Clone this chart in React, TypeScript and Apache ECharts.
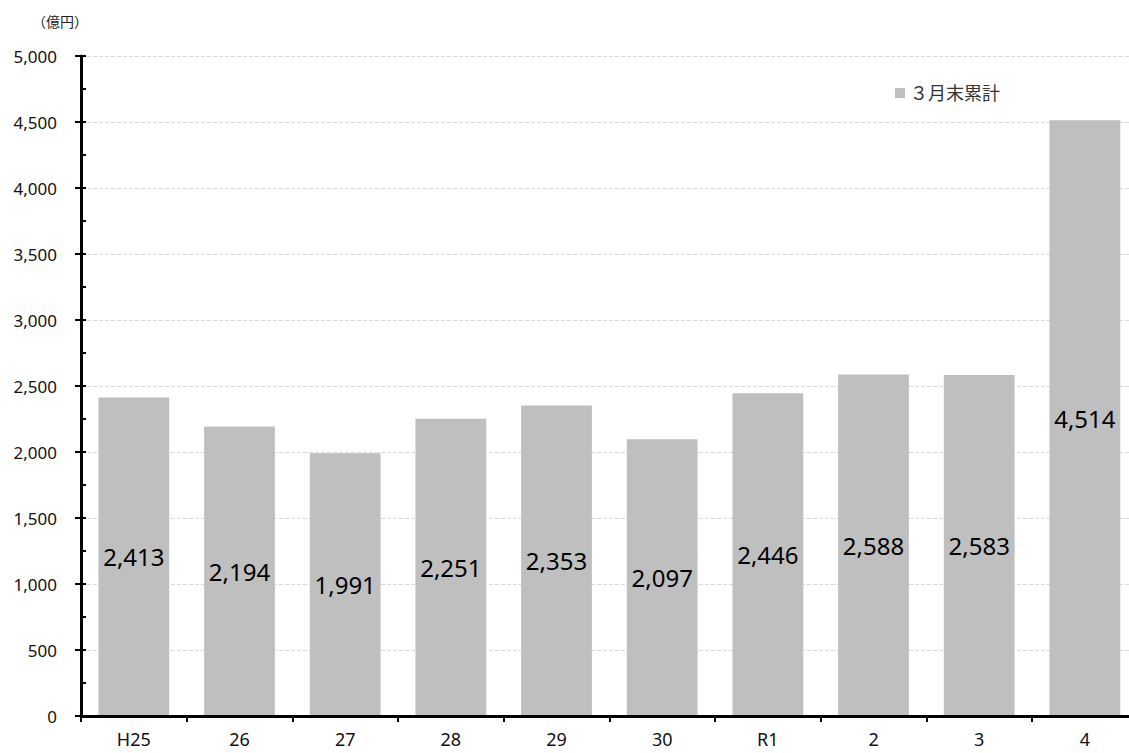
import React, { useEffect, useRef } from "react";
import * as echarts from "echarts";

const categories = ["H25", "26", "27", "28", "29", "30", "R1", "2", "3", "4"];
const values = [2413, 2194, 1991, 2251, 2353, 2097, 2446, 2588, 2583, 4514];
const seriesName = "３月末累計";
const unitLabel = "（億円）";

const FONT = "'Noto Sans', 'Noto Sans CJK JP', sans-serif";

export default function App() {
  const ref = useRef<HTMLDivElement>(null);
  useEffect(() => {
    if (!ref.current) return;
    const chart = echarts.init(ref.current, undefined, { renderer: "svg" });
    const base = { type: "value", min: 0, max: 5000, position: "left" };
    chart.setOption({
      animation: false,
      backgroundColor: "#ffffff",
      textStyle: { fontFamily: FONT },
      grid: { left: 81, top: 56, width: 1056.7, height: 660 },
      legend: {
        data: [seriesName],
        left: 890,
        top: 79,
        itemWidth: 10,
        itemHeight: 10,
        itemGap: 10,
        icon: "rect",
        textStyle: { fontSize: 18, color: "#333", fontFamily: FONT },
      },
      graphic: [
        {
          type: "text",
          left: 32,
          top: 14,
          style: { text: unitLabel, fontSize: 14, fill: "#222", fontFamily: FONT },
        },
      ],
      xAxis: {
        type: "category",
        data: categories,
        z: 5,
        axisLine: { lineStyle: { color: "#000", width: 3 } },
        axisTick: { show: true, length: 6, lineStyle: { color: "#000", width: 2 } },
        axisLabel: { fontSize: 18, color: "#111", margin: 14, fontFamily: FONT },
        splitLine: { show: false },
      },
      yAxis: [
        {
          ...base,
          interval: 500,
          axisLine: { show: false },
          axisTick: { show: false },
          axisLabel: {
            fontSize: 17,
            color: "#111",
            margin: 24,
            fontFamily: FONT,
            formatter: (v: number) => v.toLocaleString("en-US"),
          },
          splitLine: { show: true, lineStyle: { color: "#d9d9d9", type: "dashed", width: 1 } },
        },
        {
          ...base,
          interval: 500,
          z: 5,
          axisLine: { show: true, lineStyle: { color: "#000", width: 3 } },
          axisTick: { show: true, length: 6, lineStyle: { color: "#000", width: 2 } },
          axisLabel: { show: false },
          splitLine: { show: false },
        },
        {
          ...base,
          interval: 250,
          z: 5,
          axisLine: { show: false },
          axisTick: { show: true, inside: true, length: 5, lineStyle: { color: "#000", width: 2 } },
          axisLabel: { show: false },
          splitLine: { show: false },
        },
      ],
      series: [
        {
          name: seriesName,
          type: "bar",
          data: values,
          yAxisIndex: 0,
          barCategoryGap: "33%",
          itemStyle: { color: "#bfbfbf" },
          label: {
            show: true,
            position: "inside",
            fontSize: 24,
            color: "#000",
            fontFamily: FONT,
            formatter: (p: any) => Number(p.value).toLocaleString("en-US"),
          },
        },
      ],
    });
    return () => chart.dispose();
  }, []);
  return (
    <div style={{ position: "fixed", left: 0, top: 0, width: 1129, height: 753, overflow: "hidden", background: "#fff" }}>
      <div ref={ref} style={{ width: 1145, height: 753 }} />
    </div>
  );
}
